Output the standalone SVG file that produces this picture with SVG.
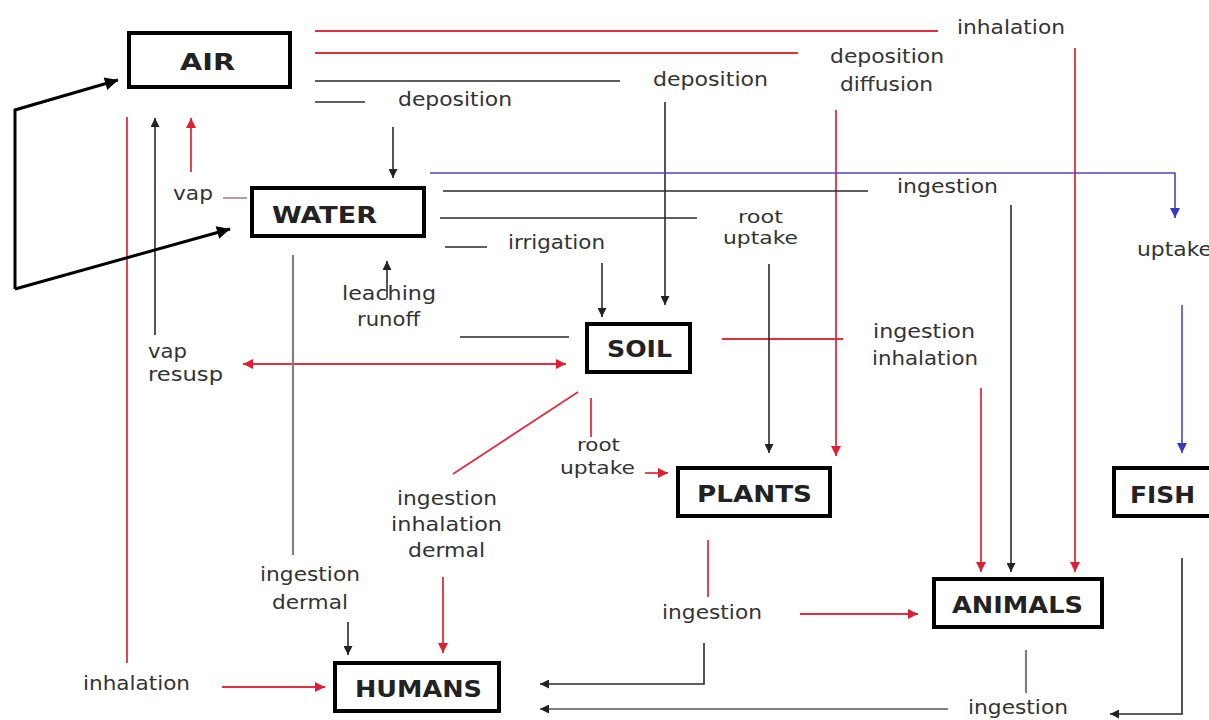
<svg xmlns="http://www.w3.org/2000/svg" width="1209" height="720" viewBox="0 0 1209 720">
<style>
.lbl{font-family:"DejaVu Sans",Verdana,sans-serif;font-size:20px;fill:#333}
.sm{font-size:18px}
.nl{font-family:"DejaVu Sans",Verdana,sans-serif;font-size:23px;font-weight:bold;fill:#222}
.box{fill:#fff;stroke:#000;stroke-width:4}
.r{stroke:#e03040;stroke-width:1.8;fill:none}
.k{stroke:#2a2a2a;stroke-width:1.6;fill:none}
.g{stroke:#808080;stroke-width:2.2;fill:none}
.b{stroke:#4848c0;stroke-width:1.6;fill:none}
.t{stroke:#000;stroke-width:3;fill:none}
</style>
<defs>
<marker id="aR" viewBox="0 0 10 10" refX="10" refY="5" markerWidth="11" markerHeight="10" markerUnits="userSpaceOnUse" orient="auto-start-reverse"><path d="M0,0 L10,5 L0,10 z" fill="#e02030"/></marker>
<marker id="aK" viewBox="0 0 10 10" refX="10" refY="5" markerWidth="11" markerHeight="9" markerUnits="userSpaceOnUse" orient="auto"><path d="M0,0 L10,5 L0,10 z" fill="#222"/></marker>
<marker id="aB" viewBox="0 0 10 10" refX="10" refY="5" markerWidth="11" markerHeight="10" markerUnits="userSpaceOnUse" orient="auto"><path d="M0,0 L10,5 L0,10 z" fill="#3838c0"/></marker>
<marker id="aT" viewBox="0 0 10 10" refX="10" refY="5" markerWidth="16" markerHeight="13" markerUnits="userSpaceOnUse" orient="auto"><path d="M0,0 L10,5 L0,10 z" fill="#000"/></marker>
</defs>
<rect width="1209" height="720" fill="#fff"/>
<g id="connectors">
<path class="r" d="M315,31 H938"/>
<path class="r" d="M1075,48 V572" marker-end="url(#aR)"/>
<path class="r" d="M315,53 H798"/>
<path class="r" d="M836,110 V456" marker-end="url(#aR)"/>
<path class="r" d="M191,172 V118" marker-end="url(#aR)"/>
<path class="r" d="M127,117 V663" stroke-width="2.2" stroke="#e07080"/>
<path class="r" d="M222,687 H325" marker-end="url(#aR)"/>
<path class="r" d="M243,364 H566" marker-start="url(#aR)" marker-end="url(#aR)"/>
<path class="r" d="M578,392 L453,474"/>
<path class="r" d="M443,577 V653" marker-end="url(#aR)"/>
<path class="r" d="M591,398 V437"/>
<path class="r" d="M645,473 H668" marker-end="url(#aR)"/>
<path class="r" d="M722,339 H843"/>
<path class="r" d="M981,388 V572" marker-end="url(#aR)"/>
<path class="r" d="M708,540 V597"/>
<path class="r" d="M800,614 H918" marker-end="url(#aR)"/>
<path d="M223,198 H247" stroke="#a08888" stroke-width="1.6"/>
<path class="k" d="M315,81 H620"/>
<path class="k" d="M665,102 V305" marker-end="url(#aK)"/>
<path class="k" d="M315,102 H365"/>
<path class="k" d="M393,127 V178" marker-end="url(#aK)"/>
<path class="k" d="M443,191 H868" stroke="#555"/>
<path class="k" d="M1011,205 V572" marker-end="url(#aK)"/>
<path class="k" d="M440,218 H697" stroke="#555"/>
<path class="k" d="M769,264 V453" marker-end="url(#aK)"/>
<path class="k" d="M445,247 H487"/>
<path class="k" d="M602,263 V317" marker-end="url(#aK)"/>
<path class="k" d="M387,298 V261" marker-end="url(#aK)"/>
<path class="k" d="M460,337 H569"/>
<path class="k" d="M155,335 V118" marker-end="url(#aK)"/>
<path class="k" d="M348,622 V655" marker-end="url(#aK)"/>
<path class="k" d="M704,643 V684 H540" marker-end="url(#aK)"/>
<path class="k" d="M1182,558 V714 H1110" marker-end="url(#aK)"/>
<path class="g" d="M293,255 V555"/>
<path class="g" d="M1026,650 V693"/>
<path class="g" d="M948,709 H540" marker-end="url(#aK)"/>
<path class="b" d="M430,173 H1175 V218" marker-end="url(#aB)"/>
<path class="b" d="M1182,305 V453" marker-end="url(#aB)"/>
<path class="t" d="M15,289 V110 L118,80" marker-end="url(#aT)"/>
<path class="t" d="M15,289 L230,229" marker-end="url(#aT)"/>
</g>
<g id="labels">
<text class="lbl" x="957" y="34" textLength="108" lengthAdjust="spacingAndGlyphs">inhalation</text>
<text class="lbl" x="830" y="63" textLength="114" lengthAdjust="spacingAndGlyphs">deposition</text>
<text class="lbl" x="840" y="91" textLength="93" lengthAdjust="spacingAndGlyphs">diffusion</text>
<text class="lbl" x="653" y="86" textLength="115" lengthAdjust="spacingAndGlyphs">deposition</text>
<text class="lbl" x="398" y="106" textLength="114" lengthAdjust="spacingAndGlyphs">deposition</text>
<text class="lbl" x="897" y="193" textLength="101" lengthAdjust="spacingAndGlyphs">ingestion</text>
<text class="lbl sm" x="738" y="223" textLength="45" lengthAdjust="spacingAndGlyphs">root</text>
<text class="lbl sm" x="723" y="244" textLength="75" lengthAdjust="spacingAndGlyphs">uptake</text>
<text class="lbl" x="508" y="249" textLength="97" lengthAdjust="spacingAndGlyphs">irrigation</text>
<text class="lbl" x="342" y="300" textLength="94" lengthAdjust="spacingAndGlyphs">leaching</text>
<text class="lbl" x="357" y="326" textLength="63" lengthAdjust="spacingAndGlyphs">runoff</text>
<text class="lbl" x="173" y="200" textLength="40" lengthAdjust="spacingAndGlyphs">vap</text>
<text class="lbl" x="148" y="358" textLength="39" lengthAdjust="spacingAndGlyphs">vap</text>
<text class="lbl" x="148" y="381" textLength="75" lengthAdjust="spacingAndGlyphs">resusp</text>
<text class="lbl" x="873" y="338" textLength="102" lengthAdjust="spacingAndGlyphs">ingestion</text>
<text class="lbl" x="872" y="365" textLength="106" lengthAdjust="spacingAndGlyphs">inhalation</text>
<text class="lbl sm" x="577" y="451" textLength="43" lengthAdjust="spacingAndGlyphs">root</text>
<text class="lbl sm" x="560" y="474" textLength="75" lengthAdjust="spacingAndGlyphs">uptake</text>
<text class="lbl" x="397" y="505" textLength="100" lengthAdjust="spacingAndGlyphs">ingestion</text>
<text class="lbl" x="391" y="531" textLength="111" lengthAdjust="spacingAndGlyphs">inhalation</text>
<text class="lbl" x="408" y="557" textLength="77" lengthAdjust="spacingAndGlyphs">dermal</text>
<text class="lbl" x="260" y="581" textLength="100" lengthAdjust="spacingAndGlyphs">ingestion</text>
<text class="lbl" x="272" y="609" textLength="76" lengthAdjust="spacingAndGlyphs">dermal</text>
<text class="lbl" x="83" y="690" textLength="107" lengthAdjust="spacingAndGlyphs">inhalation</text>
<text class="lbl" x="662" y="619" textLength="100" lengthAdjust="spacingAndGlyphs">ingestion</text>
<text class="lbl" x="968" y="714" textLength="100" lengthAdjust="spacingAndGlyphs">ingestion</text>
<text class="lbl" x="1137" y="256" textLength="75" lengthAdjust="spacingAndGlyphs">uptake</text>
</g>
<g id="air"><rect class="box" x="129" y="33" width="161" height="54"/><text class="nl" x="180" y="70" textLength="55" lengthAdjust="spacingAndGlyphs">AIR</text></g>
<g id="water"><rect class="box" x="252" y="188" width="172" height="48"/><text class="nl" x="272" y="223" textLength="105" lengthAdjust="spacingAndGlyphs">WATER</text></g>
<g id="soil"><rect class="box" x="587" y="324" width="103" height="48"/><text class="nl" x="607" y="357" textLength="65" lengthAdjust="spacingAndGlyphs">SOIL</text></g>
<g id="plants"><rect class="box" x="678" y="468" width="152" height="48"/><text class="nl" x="697" y="502" textLength="115" lengthAdjust="spacingAndGlyphs">PLANTS</text></g>
<g id="fish"><rect class="box" x="1114" y="468" width="100" height="48"/><text class="nl" x="1130" y="503" textLength="65" lengthAdjust="spacingAndGlyphs">FISH</text></g>
<g id="animals"><rect class="box" x="934" y="579" width="168" height="48"/><text class="nl" x="952" y="613" textLength="131" lengthAdjust="spacingAndGlyphs">ANIMALS</text></g>
<g id="humans"><rect class="box" x="335" y="663" width="164" height="48"/><text class="nl" x="355" y="697" textLength="127" lengthAdjust="spacingAndGlyphs">HUMANS</text></g>
</svg>
